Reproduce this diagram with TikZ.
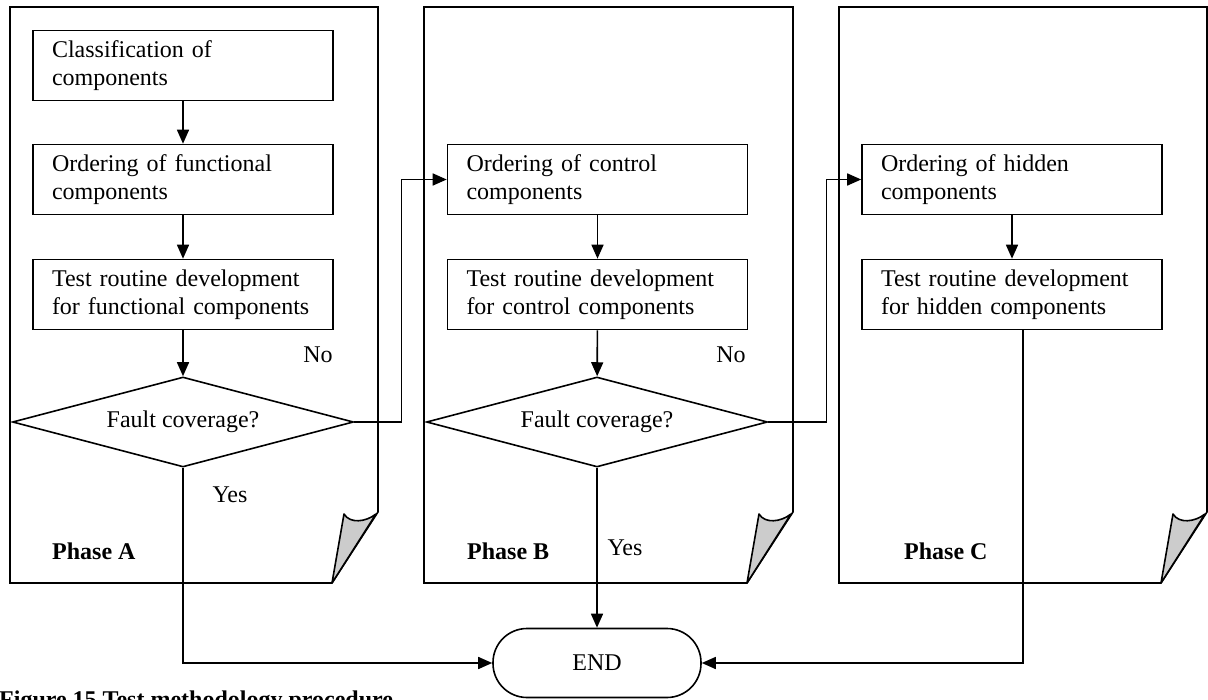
\documentclass[tikz,border=0pt]{standalone}
\usepackage{fontspec}
\setmainfont{Liberation Serif}
\usetikzlibrary{arrows.meta,shapes.geometric,calc}

\newcommand\bodysize{\fontsize{24}{27.5}\selectfont}

% A sheet of paper with its lower right corner curled up (left and right edge)
\newcommand\docpage[2]{%
  \draw[sheet] (#1,7) -- (#2,7) -- (#2,512) -- (#2-46,583) -- (#1,583) -- cycle;
  \draw[curl] (#2-46,583) -- (#2-34,514)
     .. controls (#2-28,524) and (#2-12,522) .. (#2-2,514) -- cycle;
}

\tikzset{
  sheet/.style={draw=black, line width=1.6pt, fill=white, line join=miter},
  curl/.style={draw=black, line width=1.6pt, fill=black!20, line join=round},
  stepbox/.style={draw=black, line width=1.6pt, fill=white, font=\bodysize,
    minimum width=300pt, minimum height=70pt, text width=262pt,
    inner xsep=19pt, inner ysep=0pt, align=left},
  decision/.style={draw=black, line width=1.6pt, fill=white, font=\bodysize,
    diamond, aspect=3.8, minimum width=341pt, minimum height=90pt, inner sep=0pt},
  terminal/.style={draw=black, line width=1.6pt, fill=white, font=\bodysize,
    rectangle, rounded corners=34pt, minimum width=208pt, minimum height=69pt},
  flow/.style={line width=1.6pt, -{Triangle[length=14pt,width=12pt]}},
  lbl/.style={font=\bodysize, inner sep=0pt},
  phase/.style={font=\bodysize\bfseries, inner sep=0pt, anchor=west},
}

\begin{document}
\begin{tikzpicture}[x=1pt, y=-1pt]
  \useasboundingbox (0,0) rectangle (1208,700);
  \clip (0,0) rectangle (1208,700);

  % the three phase sheets
  \docpage{10}{378}
  \docpage{424}{793}
  \docpage{839}{1207}

  \node[phase] (pa) at (52,551) {Phase A};
  \node[phase] (pb) at (467,551) {Phase B};
  \node[phase] (pc) at (904,551) {Phase C};

  % Phase A
  \node[stepbox] (a1) at (183,65.5) {Classification of\\components};
  \node[stepbox] (a2) at (183,179.5) {Ordering of functional\\components};
  \node[stepbox] (a3) at (183,294.5) {Test routine development\\for functional components};
  \node[decision] (da) at (183,422) {Fault coverage?};

  % Phase B
  \node[stepbox] (b1) at (597.5,179.5) {Ordering of control\\components};
  \node[stepbox] (b2) at (597.5,294.5) {Test routine development\\for control components};
  \node[decision] (db) at (597,422) {Fault coverage?};

  % Phase C
  \node[stepbox] (c1) at (1012,179.5) {Ordering of hidden\\components};
  \node[stepbox] (c2) at (1012,294.5) {Test routine development\\for hidden components};

  \node[terminal] (end) at (597,663) {END};

  % connectors
  \draw[flow] (a1) -- (a2);
  \draw[flow] (a2) -- (a3);
  \draw[flow] (a3) -- (da);
  \draw[flow] (da.east) -- ++(47,0) |- (b1.west);
  \draw[flow] (b1) -- (b2);
  \draw[flow] (b2) -- (db);
  \draw[flow] (db.east) -- ++(58,0) |- (c1.west);
  \draw[flow] (c1) -- (c2);
  \draw[flow] (da.south) |- (end.west);
  \draw[flow] (db.south) -- (end.north);
  \draw[flow] ([xshift=11pt]c2.south) |- (end.east);

  \node[lbl] (noa) at (318,355) {No};
  \node[lbl] (yesa) at (230,495) {Yes};
  \node[lbl] (nob) at (731,355) {No};
  \node[lbl] (yesb) at (625,548) {Yes};

  \node[font=\fontsize{24}{28}\selectfont\bfseries, anchor=base west, inner sep=0pt]
    (cap) at (-1,707) {Figure 15 Test methodology procedure};
\end{tikzpicture}
\end{document}
